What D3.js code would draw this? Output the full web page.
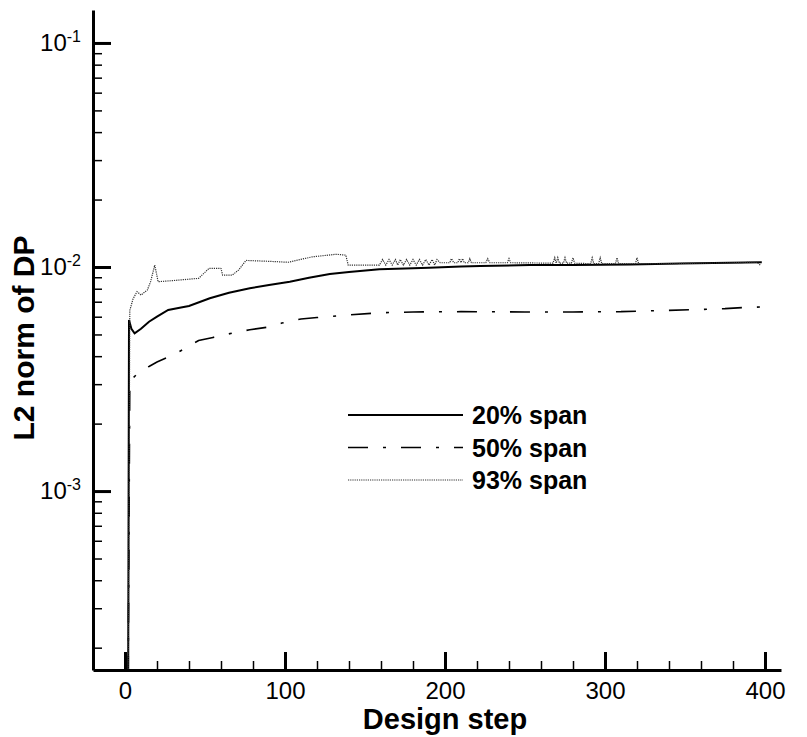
<!DOCTYPE html>
<html>
<head>
<meta charset="utf-8">
<script src="https://cdn.jsdelivr.net/npm/d3@7"></script>
<style>
  body { margin: 0; background: #fff; }
  text { font-family: 'Liberation Sans', Arial, sans-serif; }
</style>
</head>
<body>
<script>
// values (design step, L2 norm of DP)
let steps20 = [2, 2.5, 4, 6, 10, 15, 20, 27, 35, 40, 53, 65, 78, 90, 103, 115, 128, 140, 159, 175, 190, 210, 222, 253, 280, 316, 347, 378, 398]
let vals20 = [1.5e-4, 5.8e-3, 5.3e-3, 5.06e-3, 5.3e-3, 5.7e-3, 6.0e-3, 6.43e-3, 6.6e-3, 6.7e-3, 7.25e-3, 7.68e-3, 8.04e-3, 8.31e-3, 8.6e-3, 8.95e-3, 9.3e-3, 9.5e-3, 9.76e-3, 9.85e-3, 9.93e-3, 1.005e-2, 1.01e-2, 1.02e-2, 1.02e-2, 1.025e-2, 1.038e-2, 1.045e-2, 1.05e-2]

let steps50 = [2, 3, 5, 10, 15, 20, 30, 38, 46, 55, 67, 78, 90, 98, 110, 120, 138, 159, 180, 210, 250, 280, 310, 330, 356, 375, 388, 397]
let vals50 = [1.5e-4, 3.1e-3, 3.2e-3, 3.45e-3, 3.6e-3, 3.77e-3, 4.05e-3, 4.35e-3, 4.7e-3, 4.85e-3, 5.07e-3, 5.25e-3, 5.4e-3, 5.62e-3, 5.86e-3, 5.95e-3, 6.1e-3, 6.25e-3, 6.3e-3, 6.32e-3, 6.3e-3, 6.3e-3, 6.32e-3, 6.38e-3, 6.45e-3, 6.52e-3, 6.6e-3, 6.63e-3]

let steps93 = [2, 3, 5, 7.5, 10, 14, 16, 18.6, 20.7, 30, 46, 52.6, 60, 61, 67, 71, 75.6, 90, 102, 117, 132, 138, 139.5, 159,
  161, 163, 165, 167, 169, 170.5, 172, 174, 176, 178, 180, 182, 184, 186, 188, 190, 192, 193.5, 195, 197,
  203, 204, 205.5, 208, 209, 210, 211, 212, 214.5, 215.5, 216.5, 225.5, 226.7, 228, 239, 240, 241,
  267.5, 268.6, 269.5, 270.5, 271.5, 274, 275, 276, 279, 280, 281, 291, 292, 293, 296, 297, 298,
  306.5, 307.5, 308.5, 319, 320, 321, 340, 360, 380, 395, 397]
let vals93 = [1.5e-4, 6.4e-3, 7.2e-3, 7.76e-3, 7.5e-3, 7.9e-3, 8.6e-3, 1.02e-2, 8.6e-3, 8.7e-3, 8.9e-3, 9.87e-3, 9.85e-3, 9.2e-3, 9.2e-3, 9.7e-3, 1.07e-2, 1.06e-2, 1.05e-2, 1.11e-2, 1.14e-2, 1.13e-2, 1.02e-2, 1.02e-2,
  1.08e-2, 1.02e-2, 1.08e-2, 1.02e-2, 1.08e-2, 1.02e-2, 1.08e-2, 1.02e-2, 1.08e-2, 1.02e-2, 1.08e-2, 1.02e-2, 1.08e-2, 1.02e-2, 1.08e-2, 1.02e-2, 1.08e-2, 1.02e-2, 1.08e-2, 1.045e-2,
  1.045e-2, 1.09e-2, 1.045e-2, 1.045e-2, 1.09e-2, 1.045e-2, 1.09e-2, 1.045e-2, 1.045e-2, 1.09e-2, 1.045e-2, 1.045e-2, 1.09e-2, 1.045e-2, 1.045e-2, 1.09e-2, 1.045e-2,
  1.04e-2, 1.1e-2, 1.04e-2, 1.1e-2, 1.04e-2, 1.04e-2, 1.1e-2, 1.04e-2, 1.04e-2, 1.1e-2, 1.04e-2, 1.035e-2, 1.1e-2, 1.035e-2, 1.035e-2, 1.1e-2, 1.035e-2,
  1.035e-2, 1.1e-2, 1.035e-2, 1.035e-2, 1.1e-2, 1.035e-2, 1.035e-2, 1.04e-2, 1.045e-2, 1.05e-2, 1.02e-2]

let seriesNames = ['20% span', '50% span', '93% span']
let xMajor = [0, 100, 200, 300, 400]
let xMinor = [-20, 20, 40, 60, 80, 120, 140, 160, 180, 220, 240, 260, 280, 320, 340, 360, 380]
let yMajor = [1e-3, 1e-2, 1e-1]
let yExp = ['-3', '-2', '-1']
let yMinor = [2e-4, 3e-4, 4e-4, 5e-4, 6e-4, 7e-4, 8e-4, 9e-4,
  2e-3, 3e-3, 4e-3, 5e-3, 6e-3, 7e-3, 8e-3, 9e-3,
  2e-2, 3e-2, 4e-2, 5e-2, 6e-2, 7e-2, 8e-2, 9e-2]

let margin = { top: 10, left: 93, right: 26, bottom: 67 }
let W = 807, H = 737

let x = d3.scaleLinear().domain([-20, 410]).range([margin.left, W - margin.right])
let y = d3.scaleLog().domain([1.59e-4, 0.1403]).range([H - margin.bottom, margin.top])

let svg = d3.select('body')
  .append('svg')
  .attr('width', W)
  .attr('height', H)

svg.append('clipPath')
  .attr('id', 'plot')
  .append('rect')
  .attr('x', margin.left)
  .attr('y', margin.top)
  .attr('width', W - margin.right - margin.left)
  .attr('height', H - margin.bottom - margin.top)

let line = d3.line()
  .x(d => x(d[0]))
  .y(d => y(d[1]))

let series = [
  { pts: d3.zip(steps20, vals20), width: 2, dash: null, color: '#000' },
  { pts: d3.zip(steps50, vals50), width: 1.6, dash: '20,15,3,15', color: '#000' },
  { pts: d3.zip(steps93, vals93), width: 1.2, dash: '1.2,1', color: '#333' }
]

svg.append('g')
  .attr('clip-path', 'url(#plot)')
  .selectAll('path')
  .data(series)
  .enter()
  .append('path')
  .attr('d', d => line(d.pts))
  .attr('fill', 'none')
  .attr('stroke', d => d.color)
  .attr('stroke-width', d => d.width)
  .attr('stroke-dasharray', d => d.dash)

// minor ticks
svg.append('g')
  .attr('transform', 'translate(0,' + (H - margin.bottom) + ')')
  .call(d3.axisBottom(x).tickValues(xMinor).tickSize(-9).tickFormat(''))
  .call(g => g.select('.domain').remove())
  .selectAll('line').attr('stroke-width', 1.5)

svg.append('g')
  .attr('transform', 'translate(' + margin.left + ',0)')
  .call(d3.axisLeft(y).tickValues(yMinor).tickSize(-9).tickFormat(''))
  .call(g => g.select('.domain').remove())
  .selectAll('line').attr('stroke-width', 1.5)

// major ticks and axis lines
let xAxis = svg.append('g')
  .attr('transform', 'translate(0,' + (H - margin.bottom) + ')')
  .call(d3.axisBottom(x).tickValues(xMajor).tickSize(-18).tickSizeOuter(0).tickPadding(12).tickFormat(d3.format('d')))
xAxis.select('.domain').attr('stroke-width', 3)
xAxis.selectAll('line').attr('stroke-width', 3)
xAxis.selectAll('text').attr('font-size', 24).attr('fill', '#000')
  .style('font-family', "'Liberation Sans', Arial, sans-serif")

let yAxis = svg.append('g')
  .attr('transform', 'translate(' + margin.left + ',0)')
  .call(d3.axisLeft(y).tickValues(yMajor).tickSize(-18).tickSizeOuter(0).tickPadding(12).tickFormat(''))
yAxis.select('.domain').attr('stroke-width', 3)
yAxis.selectAll('line').attr('stroke-width', 3)
yAxis.selectAll('text')
  .attr('font-size', 24)
  .attr('fill', '#000')
  .style('font-family', "'Liberation Sans', Arial, sans-serif")
  .each(function (d, i) {
    let t = d3.select(this)
    t.append('tspan').text('10')
    t.append('tspan').attr('font-size', 16).attr('dy', '-0.55em').text(yExp[i])
  })

// axis titles
svg.append('text')
  .attr('x', (x(-20) + x(410)) / 2 + 8)
  .attr('y', 729)
  .attr('text-anchor', 'middle')
  .attr('font-size', 29)
  .attr('font-weight', 'bold')
  .text('Design step')

svg.append('text')
  .attr('transform', 'translate(34,338) rotate(-90)')
  .attr('text-anchor', 'middle')
  .attr('font-size', 30)
  .attr('font-weight', 'bold')
  .text('L2 norm of DP')

// legend
let legend = svg.append('g')
  .selectAll('g')
  .data(series)
  .enter()
  .append('g')
  .attr('transform', (d, i) => 'translate(348,' + (415 + i * 32.5) + ')')

legend.append('line')
  .attr('x1', 0)
  .attr('x2', 115)
  .attr('stroke', d => d.color)
  .attr('stroke-width', d => d.width)
  .attr('stroke-dasharray', d => d.dash)

legend.append('text')
  .attr('x', 124)
  .attr('dy', '0.36em')
  .attr('font-size', 25)
  .attr('font-weight', 'bold')
  .text((d, i) => seriesNames[i])
</script>
</body>
</html>
